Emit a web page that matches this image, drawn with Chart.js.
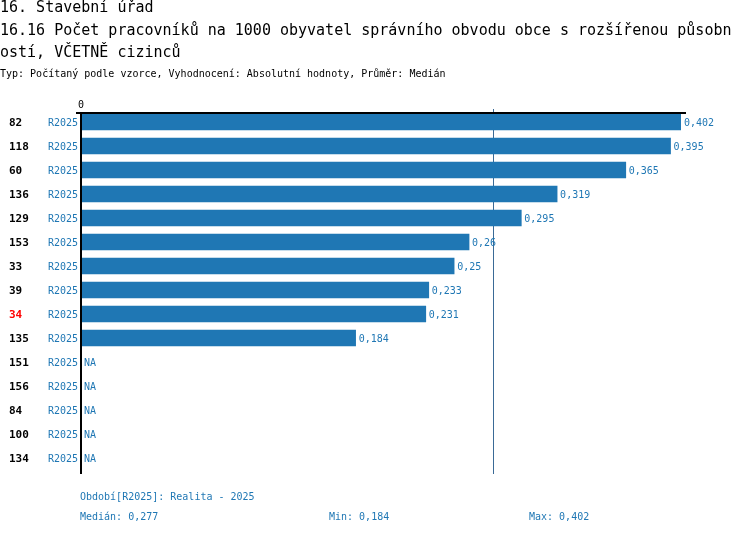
<!DOCTYPE html>
<html><head><meta charset="utf-8">
<script src="https://cdn.jsdelivr.net/npm/chart.js@4"></script>
<style>
html,body{margin:0;padding:0;background:#fff;overflow:hidden}
#wrap{position:relative;width:750px;height:534px}
canvas{position:absolute;left:0;top:0}
.t{position:absolute;white-space:nowrap;font-family:"DejaVu Sans Mono",monospace;color:#000}
.b{color:#1f77b4}
</style></head><body>
<div id="wrap">
<canvas id="c" width="750" height="534"></canvas>
<div class="t" style="left:0;top:0;font-size:15px;line-height:15px">16. Stavební úřad</div>
<div class="t" style="left:0;top:23px;font-size:15px;line-height:15px">16.16 Počet pracovníků na 1000 obyvatel správního obvodu obce s rozšířenou působn</div>
<div class="t" style="left:0;top:44.5px;font-size:15px;line-height:15px">ostí, VČETNĚ cizinců</div>
<div class="t" style="left:0;top:68.5px;font-size:10px;line-height:10px">Typ: Počítaný podle vzorce, Vyhodnocení: Absolutní hodnoty, Průměr: Medián</div>
<div class="t b" style="left:80px;top:491.5px;font-size:10px;line-height:10px" id="f1"></div>
<div class="t b" style="left:80px;top:511.5px;font-size:10px;line-height:10px" id="f2"></div>
<div class="t b" style="left:329px;top:511.5px;font-size:10px;line-height:10px" id="f3"></div>
<div class="t b" style="left:529px;top:511.5px;font-size:10px;line-height:10px" id="f4"></div>
</div>
<script>
const categories = ["82","118","60","136","129","153","33","39","34","135","151","156","84","100","134"];
const periods = ["R2025","R2025","R2025","R2025","R2025","R2025","R2025","R2025","R2025","R2025","R2025","R2025","R2025","R2025","R2025"];
const values = [0.402,0.395,0.365,0.319,0.295,0.26,0.25,0.233,0.231,0.184,null,null,null,null,null];
const highlighted = ["34"];
const median = 0.277;
const minVal = 0.184;
const maxVal = 0.402;
const periodLegend = "Období[R2025]: Realita - 2025";

const fmt = v => String(v).replace('.', ',');
document.getElementById('f1').textContent = periodLegend;
document.getElementById('f2').textContent = 'Medián: ' + fmt(median);
document.getElementById('f3').textContent = 'Min: ' + fmt(minVal);
document.getElementById('f4').textContent = 'Max: ' + fmt(maxVal);

const BLUE = '#1f77b4';
const MEDIAN_COLOR = '#3a6a96';
const MONO = '"DejaVu Sans Mono", monospace';

const medianBehind = {
  id: 'medianBehind',
  beforeDatasetsDraw(chart) {
    const ctx = chart.ctx;
    const xs = chart.scales.x, ca = chart.chartArea;
    const xm = Math.floor(xs.getPixelForValue(median)) - 0.5;
    ctx.save();
    ctx.strokeStyle = MEDIAN_COLOR;
    ctx.lineWidth = 1;
    ctx.beginPath(); ctx.moveTo(xm, ca.top - 1); ctx.lineTo(xm, ca.bottom + 4); ctx.stroke();
    ctx.restore();
  }
};

const overlay = {
  id: 'overlay',
  afterDatasetsDraw(chart) {
    const ctx = chart.ctx;
    const xs = chart.scales.x, ys = chart.scales.y, ca = chart.chartArea;
    const x0 = xs.getPixelForValue(0);
    const axisTop = ca.top + 3;
    const axisBottom = ca.bottom + 4;
    const xm = Math.floor(xs.getPixelForValue(median)) - 0.5;
    ctx.save();
    ctx.strokeStyle = MEDIAN_COLOR;
    ctx.lineWidth = 1;
    ctx.beginPath(); ctx.moveTo(xm, axisTop - 4); ctx.lineTo(xm, axisTop); ctx.stroke();
    ctx.strokeStyle = '#000';
    ctx.lineWidth = 2;
    ctx.beginPath(); ctx.moveTo(x0 - 5, axisTop); ctx.lineTo(xs.getPixelForValue(maxVal) + 5, axisTop); ctx.stroke();
    ctx.beginPath(); ctx.moveTo(x0, axisTop); ctx.lineTo(x0, axisBottom); ctx.stroke();
    ctx.fillStyle = '#000';
    ctx.font = '10px ' + MONO;
    ctx.textAlign = 'center';
    ctx.textBaseline = 'alphabetic';
    ctx.fillText('0', x0, axisTop - 5);
    ctx.textBaseline = 'middle';
    categories.forEach((c, i) => {
      const y = ys.getPixelForValue(i);
      ctx.textAlign = 'left';
      ctx.font = 'bold 11px ' + MONO;
      ctx.fillStyle = highlighted.includes(c) ? '#ff0000' : '#000';
      ctx.fillText(c, 9, y + 1);
      ctx.font = '10px ' + MONO;
      ctx.fillStyle = BLUE;
      ctx.textAlign = 'right';
      ctx.fillText(periods[i], x0 - 3, y + 1);
      ctx.textAlign = 'left';
      const v = values[i];
      ctx.fillText(v === null ? 'NA' : fmt(v), (v === null ? x0 : xs.getPixelForValue(v)) + 3, y + 1);
    });
    ctx.restore();
  }
};

new Chart(document.getElementById('c'), {
  type: 'bar',
  data: {
    labels: categories,
    datasets: [{
      data: values,
      backgroundColor: BLUE,
      borderWidth: 0,
      barThickness: 16
    }]
  },
  options: {
    indexAxis: 'y',
    responsive: false,
    animation: false,
    devicePixelRatio: 1,
    layout: { padding: { left: 81, right: 69, top: 110, bottom: 64 } },
    plugins: { legend: { display: false }, tooltip: { enabled: false }, title: { display: false } },
    scales: {
      x: { display: false, min: 0, max: maxVal },
      y: { display: false }
    }
  },
  plugins: [medianBehind, overlay]
});
</script>
</body></html>
